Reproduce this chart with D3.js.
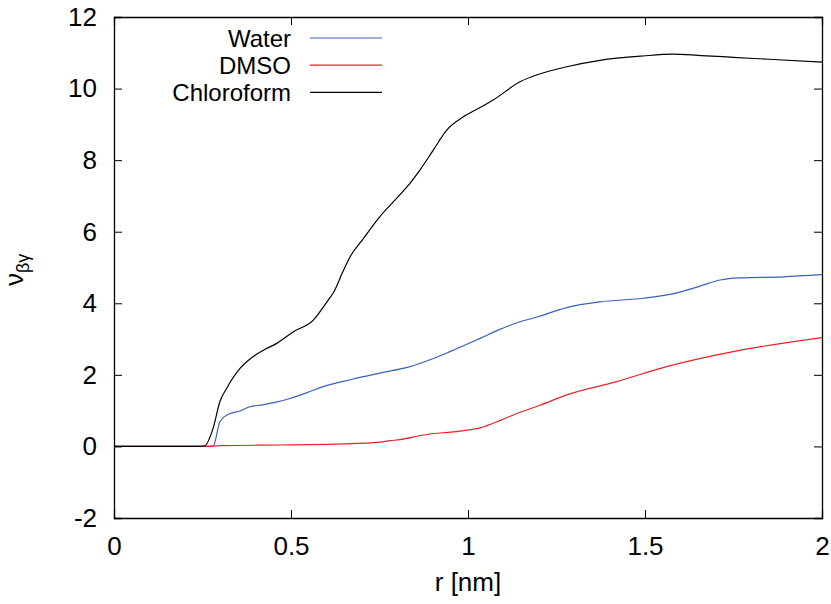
<!DOCTYPE html>
<html>
<head>
<meta charset="utf-8">
<script src="https://cdn.jsdelivr.net/npm/d3@7"></script>
<style>
  body { margin: 0; background: #fff; }
  svg text { font-family: "Liberation Sans", Helvetica, Arial, sans-serif; fill: #000; }
</style>
</head>
<body>
<svg id="chart" width="831" height="604"></svg>
<script>
// r [nm] and nu values
var waterR = [0, 0.27, 0.281, 0.299, 0.323, 0.356, 0.384, 0.42, 0.455, 0.497, 0.55, 0.591, 0.67, 0.751, 0.836, 0.9, 0.949, 1.034, 1.09, 1.128, 1.2, 1.279, 1.373, 1.495, 1.59, 1.655, 1.712, 1.768, 1.891, 2.0];
var waterV = [0, 0, 0.02, 0.69, 0.9, 0.99, 1.11, 1.16, 1.23, 1.34, 1.52, 1.67, 1.87, 2.05, 2.23, 2.45, 2.65, 3.02, 3.27, 3.42, 3.63, 3.88, 4.04, 4.14, 4.29, 4.48, 4.65, 4.71, 4.74, 4.8];

var dmsoR = [0, 0.25, 0.3, 0.469, 0.6, 0.704, 0.75, 0.78, 0.808, 0.874, 0.977, 1.034, 1.09, 1.138, 1.203, 1.279, 1.42, 1.561, 1.749, 2.0];
var dmsoV = [0, 0, 0.02, 0.04, 0.06, 0.09, 0.12, 0.16, 0.19, 0.32, 0.43, 0.52, 0.72, 0.92, 1.15, 1.44, 1.81, 2.23, 2.65, 3.04];

var chloroR = [0, 0.24, 0.257, 0.28, 0.299, 0.318, 0.356, 0.385, 0.422, 0.46, 0.506, 0.563, 0.605, 0.62, 0.645, 0.667, 0.704, 0.751, 0.8, 0.836, 0.864, 0.9, 0.94, 0.987, 1.03, 1.071, 1.147, 1.2, 1.279, 1.373, 1.494, 1.579, 1.65, 1.749, 1.85, 2.0];
var chloroV = [0, 0, 0.02, 0.51, 1.25, 1.62, 2.18, 2.45, 2.69, 2.88, 3.2, 3.53, 4.09, 4.3, 4.85, 5.3, 5.8, 6.42, 6.95, 7.35, 7.72, 8.25, 8.84, 9.21, 9.45, 9.68, 10.19, 10.4, 10.61, 10.79, 10.91, 10.96, 10.93, 10.87, 10.82, 10.74];

var seriesNames = ["Water", "DMSO", "Chloroform"];
var seriesColors = ["#3a62b8", "#e8232b", "#000000"];
var xTicks = [0, 0.5, 1, 1.5, 2];
var yTicks = [-2, 0, 2, 4, 6, 8, 10, 12];

var svg = d3.select("#chart");

var margin = {top: 17, left: 114, bottom: 86, right: 9},
    width = 831 - margin.left - margin.right,
    height = 604 - margin.top - margin.bottom;

var x = d3.scaleLinear().domain([0, 2]).range([margin.left, margin.left + width]);
var y = d3.scaleLinear().domain([-2, 12]).range([margin.top + height, margin.top]);

var series = [
    {name: seriesNames[0], color: seriesColors[0], pts: d3.zip(waterR, waterV)},
    {name: seriesNames[1], color: seriesColors[1], pts: d3.zip(dmsoR, dmsoV)},
    {name: seriesNames[2], color: seriesColors[2], pts: d3.zip(chloroR, chloroV)}
];

var line = d3.line()
    .curve(d3.curveMonotoneX)
    .x(function(d){ return x(d[0]) })
    .y(function(d){ return y(d[1]) });

svg.append("g").selectAll("path")
    .data(series)
    .enter().append("path")
    .attr("d", function(d){ return line(d.pts) })
    .attr("fill", "none")
    .attr("stroke", function(d){ return d.color })
    .attr("stroke-width", 1.2);

// axes, ticks pointing inward on all four sides
var tick = 8;
var fs = 26;
var fmt = function(d){ return String(d) };   // plain hyphen for "-2"

var bottom = svg.append("g")
    .attr("transform", `translate(0,${y(-2)})`)
    .call(d3.axisBottom(x).tickValues(xTicks).tickSize(-tick).tickPadding(19).tickFormat(fmt));
var top = svg.append("g")
    .attr("transform", `translate(0,${y(12)})`)
    .call(d3.axisTop(x).tickValues(xTicks).tickSize(-tick).tickFormat(""));
var left = svg.append("g")
    .attr("transform", `translate(${x(0)},0)`)
    .call(d3.axisLeft(y).tickValues(yTicks).tickSize(-tick).tickPadding(17).tickFormat(fmt));
var right = svg.append("g")
    .attr("transform", `translate(${x(2)},0)`)
    .call(d3.axisRight(y).tickValues(yTicks).tickSize(-tick).tickFormat(""));

svg.selectAll(".domain").attr("stroke", "#000").attr("stroke-width", 1.3);
svg.selectAll(".tick line").attr("stroke", "#000").attr("stroke-width", 1);
svg.selectAll(".tick text").attr("font-size", fs).attr("font-family", null);
bottom.selectAll(".tick text").attr("dy", "0.71em");

// axis titles
svg.append("text")
    .attr("x", x(1))
    .attr("y", 591)
    .attr("text-anchor", "middle")
    .attr("font-size", fs)
    .text("r [nm]");

var yt = svg.append("text")
    .attr("transform", "translate(23,286) rotate(-90)")
    .attr("font-size", fs);
yt.append("tspan").text("ν");
yt.append("tspan").attr("dy", 6).attr("font-size", 18).text("βγ");

// legend
var legend = svg.append("g").selectAll("g")
    .data(series)
    .enter().append("g")
    .attr("transform", function(d, i){ return `translate(0,${38 + i * 27.2})` });

legend.append("text")
    .attr("x", 291)
    .attr("y", 0)
    .attr("dy", "0.36em")
    .attr("text-anchor", "end")
    .attr("font-size", 24)
    .text(function(d){ return d.name });

legend.append("line")
    .attr("x1", 310)
    .attr("x2", 382)
    .attr("stroke", function(d){ return d.color })
    .attr("stroke-width", 1.2);
</script>
</body>
</html>
